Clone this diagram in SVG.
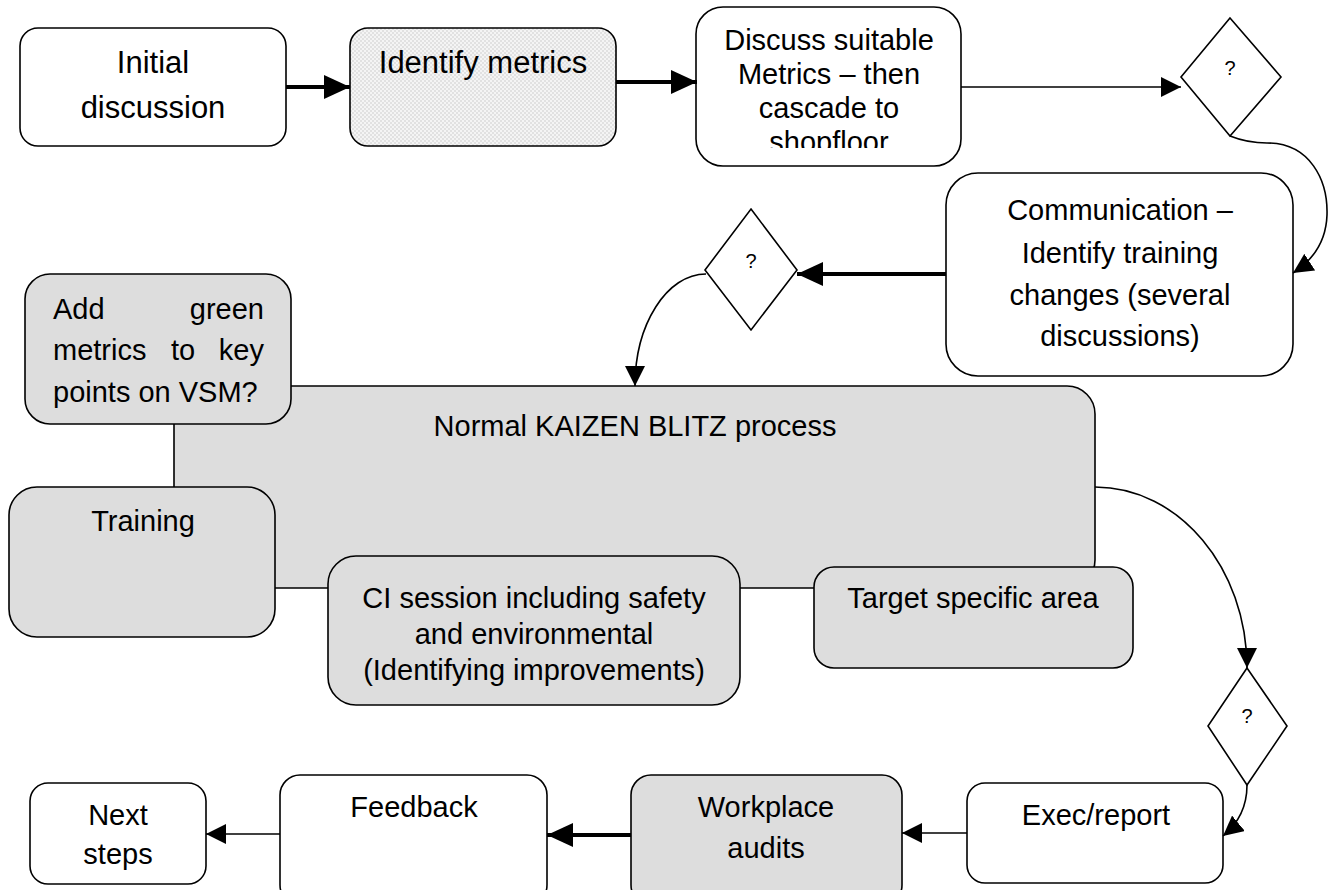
<svg xmlns="http://www.w3.org/2000/svg" width="1339" height="890" viewBox="0 0 1339 890">
  <style>
    .box { stroke: #000; stroke-width: 1.6; }
    .white { fill: #fff; }
    .grey { fill: #dddddd; }
    text { font-family: "Liberation Sans", Arial, sans-serif; font-size: 29px; fill: #000; }
    .c { text-anchor: middle; }
    .big { font-size: 31px; }
    .q { font-size: 20px; }
    .thick { stroke: #000; stroke-width: 4; fill: none; }
    .thin { stroke: #000; stroke-width: 1.6; fill: none; }
  </style>
  <defs>
    <pattern id="dots" width="4" height="4" patternUnits="userSpaceOnUse">
      <rect width="4" height="4" fill="#f4f4f4"/>
      <circle cx="1" cy="1" r="0.8" fill="#cacaca"/>
      <circle cx="3" cy="3" r="0.8" fill="#cacaca"/>
    </pattern>
    <marker id="ahBig" markerUnits="userSpaceOnUse" markerWidth="26" markerHeight="24" refX="26" refY="12" orient="auto">
      <path d="M0,0 L26,12 L0,24 Z" fill="#000"/>
    </marker>
    <marker id="ahSmall" markerUnits="userSpaceOnUse" markerWidth="20" markerHeight="20" refX="20" refY="10" orient="auto">
      <path d="M0,0 L20,10 L0,20 Z" fill="#000"/>
    </marker>
    <clipPath id="clipDiscuss"><rect x="696" y="7" width="265" height="141"/></clipPath>
    <clipPath id="clipCI"><rect x="328" y="556" width="412" height="133"/></clipPath>
  </defs>

  <!-- Kaizen blitz frame sits behind its satellite boxes -->
  <g id="kaizen">
    <rect class="box grey" x="174" y="386" width="921" height="202" rx="28"/>
    <text class="c" x="635" y="436">Normal KAIZEN BLITZ process</text>
  </g>

  <g id="initial">
    <rect class="box white" x="20" y="28" width="266" height="118" rx="18"/>
    <text class="c big" x="153" y="73">Initial</text>
    <text class="c big" x="153" y="118">discussion</text>
  </g>

  <g id="identify-metrics">
    <rect class="box" fill="url(#dots)" x="350" y="28" width="266" height="118" rx="18"/>
    <text class="c big" x="483" y="73">Identify metrics</text>
  </g>

  <g id="discuss-metrics">
    <rect class="box white" x="696" y="7" width="265" height="159" rx="27"/>
    <g clip-path="url(#clipDiscuss)">
      <text class="c" x="829" y="50">Discuss suitable</text>
      <text class="c" x="829" y="84">Metrics – then</text>
      <text class="c" x="829" y="118">cascade to</text>
      <text class="c" x="829" y="152">shopfloor</text>
    </g>
  </g>

  <g id="decision-1">
    <polygon class="box white" points="1230,18 1281,77 1230,136 1181,77"/>
    <text class="c q" x="1230" y="75">?</text>
  </g>

  <g id="communication">
    <rect class="box white" x="946" y="173" width="347" height="203" rx="32"/>
    <text class="c" x="1120" y="220">Communication –</text>
    <text class="c" x="1120" y="263">Identify training</text>
    <text class="c" x="1120" y="305">changes (several</text>
    <text class="c" x="1120" y="346">discussions)</text>
  </g>

  <g id="decision-2">
    <polygon class="box white" points="751,209 797,270 751,330 705,270"/>
    <text class="c q" x="751" y="268">?</text>
  </g>

  <g id="green-metrics">
    <rect class="box grey" x="25" y="274" width="266" height="150" rx="25"/>
    <text x="53" y="319">Add</text>
    <text x="264" y="319" text-anchor="end">green</text>
    <text x="53" y="360">metrics</text>
    <text class="c" x="183" y="360">to</text>
    <text x="264" y="360" text-anchor="end">key</text>
    <text x="53" y="402">points on VSM?</text>
  </g>

  <g id="training">
    <rect class="box grey" x="9" y="487" width="266" height="150" rx="28"/>
    <text class="c" x="143" y="531">Training</text>
  </g>

  <g id="ci-session">
    <rect class="box grey" x="328" y="556" width="412" height="149" rx="28"/>
    <g clip-path="url(#clipCI)">
      <text class="c" x="534" y="608">CI session including safety</text>
      <text class="c" x="534" y="644">and environmental</text>
      <text class="c" x="534" y="680">(Identifying improvements)</text>
    </g>
  </g>

  <g id="target-area">
    <rect class="box grey" x="814" y="567" width="319" height="101" rx="20"/>
    <text class="c" x="973" y="608">Target specific area</text>
  </g>

  <g id="decision-3">
    <polygon class="box white" points="1247,668 1287,726 1247,785 1208,726"/>
    <text class="c q" x="1247" y="723">?</text>
  </g>

  <g id="exec-report">
    <rect class="box white" x="967" y="783" width="256" height="100" rx="18"/>
    <text class="c" x="1096" y="825">Exec/report</text>
  </g>

  <g id="workplace-audits">
    <rect class="box grey" x="631" y="775" width="271" height="130" rx="20"/>
    <text class="c" x="766" y="817">Workplace</text>
    <text class="c" x="766" y="858">audits</text>
  </g>

  <g id="feedback">
    <rect class="box white" x="280" y="775" width="267" height="130" rx="20"/>
    <text class="c" x="414" y="817">Feedback</text>
  </g>

  <g id="next-steps">
    <rect class="box white" x="30" y="783" width="176" height="101" rx="18"/>
    <text class="c" x="118" y="825">Next</text>
    <text class="c" x="118" y="864">steps</text>
  </g>

  <g id="connectors">
    <path class="thick" d="M286,87 H350" marker-end="url(#ahBig)"/>
    <path class="thick" d="M616,82 H697" marker-end="url(#ahBig)"/>
    <path class="thin" d="M961,87 H1181" marker-end="url(#ahSmall)"/>
    <path class="thin" d="M1230,136 C1245,142 1255,143 1267,143 C1310,143 1328,180 1327,215 C1326,245 1310,262 1293,273" marker-end="url(#ahSmall)"/>
    <path class="thick" d="M946,274 H797" marker-end="url(#ahBig)"/>
    <path class="thin" d="M706,274 C667,274 635,324 635,386" marker-end="url(#ahSmall)"/>
    <path class="thin" d="M1095,487 C1179,487 1247,568 1247,668" marker-end="url(#ahSmall)"/>
    <path class="thin" d="M1247,785 C1247,805 1240,822 1223,836" marker-end="url(#ahSmall)"/>
    <path class="thin" d="M967,833 H902" marker-end="url(#ahSmall)"/>
    <path class="thick" d="M631,835 H547" marker-end="url(#ahBig)"/>
    <path class="thin" d="M280,834 H206" marker-end="url(#ahSmall)"/>
  </g>
</svg>
